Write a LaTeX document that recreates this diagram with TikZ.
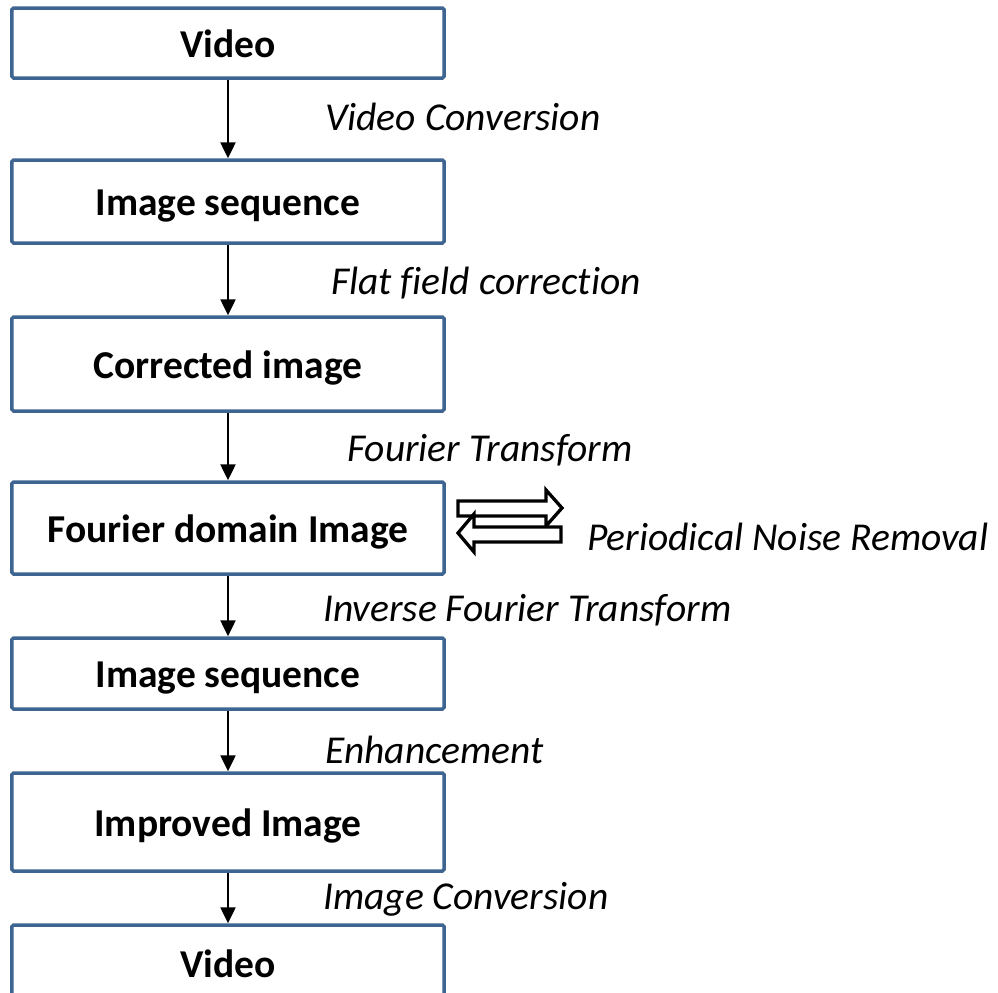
\documentclass[tikz,border=0pt]{standalone}
\usepackage{fontspec}
\setmainfont{Carlito}[Ligatures=NoCommon]
\usetikzlibrary{arrows.meta}
\definecolor{boxblue}{RGB}{62,101,146}
\begin{document}
\begin{tikzpicture}[x=1bp,y=-1bp,
  stepbox/.style={draw=boxblue,line width=3.5bp,fill=white,rounded corners=1.5bp,
    minimum width=432bp,inner sep=0pt,text height=28bp,text depth=0pt,
    font=\fontsize{39.5bp}{42bp}\selectfont\bfseries},
  lbl/.style={anchor=west,inner sep=0pt,font=\fontsize{39.5bp}{42bp}\selectfont\itshape},
  flow/.style={line width=2.5bp,-{Triangle[length=16bp,width=15bp]}},
  fat/.style={draw=black,line width=3.3bp,fill=white,line join=miter}]
\useasboundingbox (0,0) rectangle (998,993);
\clip (0,0) rectangle (998,993);
\node[stepbox,minimum height=70bp] (b1) at (228,43) {Video};
\node[stepbox,minimum height=83bp] (b2) at (228,201.5) {Image sequence};
\node[stepbox,minimum height=94bp] (b3) at (228,364) {Corrected image};
\node[stepbox,minimum height=92bp] (b4) at (228,528) {Fourier domain Image};
\node[stepbox,minimum height=71bp] (b5) at (228,673.5) {Image sequence};
\node[stepbox,minimum height=98bp] (b6) at (228,822) {Improved Image};
\node[stepbox,minimum height=80bp] (b7) at (228,965) {};
\node[font=\fontsize{39.5bp}{42bp}\selectfont\bfseries,inner sep=0pt,text height=28bp,text depth=0pt] (t7) at (228,963) {Video};
\draw[flow] (b1.south) -- (b2.north);
\draw[flow] (b2.south) -- (b3.north);
\draw[flow] (b3.south) -- (b4.north);
\draw[flow] (b4.south) -- (b5.north);
\draw[flow] (b5.south) -- (b6.north);
\draw[flow] (b6.south) -- (b7.north);
\node[lbl] (l1) at (325,117) {Video Conversion};
\node[lbl] (l2) at (331,283) {Flat field correction};
\node[lbl] (l3) at (347,450) {Fourier Transform};
\node[lbl] (l4) at (587,537) {Periodical Noise Removal};
\node[lbl] (l5) at (323,610) {Inverse Fourier Transform};
\node[lbl] (l6) at (325,750) {Enhancement};
\node[lbl] (l7) at (323,899) {Image Conversion};
% double block arrows
\draw[fat] (458,501) -- (546,501) -- (546,490) -- (562,508) -- (546,526) -- (546,516) -- (458,516) -- cycle;
\draw[fat] (561,527) -- (474,527) -- (474,514) -- (458,533) -- (474,552) -- (474,542) -- (561,542) -- cycle;
\end{tikzpicture}
\end{document}
